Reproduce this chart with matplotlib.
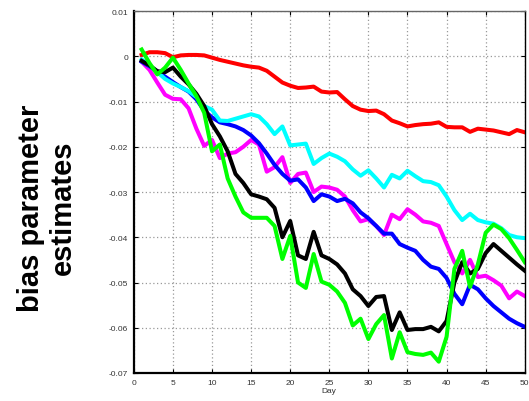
import matplotlib
matplotlib.use("Agg")
import matplotlib.pyplot as plt
import numpy as np

plt.rcParams['font.family'] = ['Liberation Sans', 'DejaVu Sans']
plt.rcParams['axes.unicode_minus'] = False

days = np.arange(1, 51)

red = [0.0003, 0.0009, 0.0009, 0.0007, -0.0002, 0.0002, 0.0003, 0.0003, 0.0002, -0.0003,
       -0.0008, -0.0012, -0.0016, -0.0020, -0.0023, -0.0025, -0.0032, -0.0045, -0.0058, -0.0065,
       -0.0070, -0.0069, -0.0067, -0.0078, -0.0080, -0.0079, -0.0095, -0.0110, -0.0118, -0.0121,
       -0.0120, -0.0128, -0.0142, -0.0148, -0.0155, -0.0152, -0.0150, -0.0149, -0.0146, -0.0156,
       -0.0157, -0.0157, -0.0167, -0.0160, -0.0162, -0.0164, -0.0168, -0.0172, -0.0163, -0.0168]

cyan = [-0.0007, -0.0020, -0.0035, -0.0050, -0.0060, -0.0068, -0.0077, -0.0090, -0.0110, -0.0118,
        -0.0142, -0.0143, -0.0138, -0.0133, -0.0128, -0.0133, -0.0150, -0.0172, -0.0155, -0.0197,
        -0.0195, -0.0193, -0.0238, -0.0225, -0.0215, -0.0222, -0.0232, -0.0250, -0.0264, -0.0252,
        -0.0270, -0.0290, -0.0262, -0.0270, -0.0253, -0.0265, -0.0276, -0.0278, -0.0285, -0.0310,
        -0.0340, -0.0362, -0.0348, -0.0362, -0.0367, -0.0370, -0.0380, -0.0395, -0.0400, -0.0402]

blue = [-0.0012, -0.0022, -0.0033, -0.0045, -0.0057, -0.0068, -0.0078, -0.0095, -0.0120, -0.0135,
        -0.0146, -0.0150, -0.0155, -0.0163, -0.0175, -0.0192, -0.0215, -0.0240, -0.0260, -0.0275,
        -0.0272, -0.0290, -0.0320, -0.0305, -0.0310, -0.0320, -0.0315, -0.0325, -0.0345, -0.0358,
        -0.0375, -0.0392, -0.0392, -0.0415, -0.0423, -0.0430, -0.0450, -0.0465, -0.0470, -0.0490,
        -0.0525, -0.0548, -0.0505, -0.0515, -0.0535, -0.0552, -0.0566, -0.0580, -0.0590, -0.0598]

magenta = [-0.0012, -0.0030, -0.0058, -0.0085, -0.0094, -0.0095, -0.0115, -0.0160, -0.0198, -0.0185,
           -0.0225, -0.0215, -0.0212, -0.0200, -0.0185, -0.0195, -0.0255, -0.0245, -0.0223, -0.0280,
           -0.0260, -0.0257, -0.0300, -0.0288, -0.0290, -0.0295, -0.0310, -0.0340, -0.0365, -0.0360,
           -0.0375, -0.0395, -0.0350, -0.0360, -0.0338, -0.0350, -0.0365, -0.0368, -0.0375, -0.0415,
           -0.0455, -0.0480, -0.0450, -0.0488, -0.0485, -0.0495, -0.0507, -0.0535, -0.0520, -0.0530]

black = [-0.0010, -0.0020, -0.0033, -0.0035, -0.0025, -0.0045, -0.0062, -0.0083, -0.0110, -0.0150,
         -0.0177, -0.0210, -0.0260, -0.0280, -0.0305, -0.0310, -0.0316, -0.0335, -0.0400, -0.0364,
         -0.0440, -0.0448, -0.0388, -0.0440, -0.0448, -0.0460, -0.0480, -0.0515, -0.0530, -0.0552,
         -0.0532, -0.0530, -0.0605, -0.0566, -0.0605, -0.0603, -0.0603, -0.0598, -0.0608, -0.0585,
         -0.0500, -0.0455, -0.0480, -0.0470, -0.0435, -0.0415, -0.0430, -0.0445, -0.0460, -0.0474]

green = [0.0015, -0.0015, -0.0040, -0.0025, -0.0003, -0.0030, -0.0060, -0.0088, -0.0125, -0.0210,
         -0.0195, -0.0270, -0.0310, -0.0345, -0.0357, -0.0357, -0.0357, -0.0375, -0.0448, -0.0397,
         -0.0500, -0.0512, -0.0437, -0.0498, -0.0505, -0.0520, -0.0545, -0.0595, -0.0580, -0.0625,
         -0.0592, -0.0572, -0.0668, -0.0610, -0.0654, -0.0658, -0.0660, -0.0655, -0.0675, -0.0620,
         -0.0470, -0.0430, -0.0510, -0.0460, -0.0390, -0.0372, -0.0382, -0.0402, -0.0428, -0.0455]

xticks = np.arange(0, 51, 5)
yticks = np.arange(-0.07, 0.0101, 0.01)
ytick_labels = ['-0.07', '-0.06', '-0.05', '-0.04', '-0.03', '-0.02', '-0.01', '0', '0.01']

fig = plt.figure(figsize=(5.29, 4.02), dpi=100)
ax = fig.add_axes([0.253, 0.0697, 0.739, 0.9003])

lw = 2.9
ax.plot(days, red, color='#ff0000', lw=lw)
ax.plot(days, magenta, color='#ff00ff', lw=lw)
ax.plot(days, blue, color='#0000ff', lw=lw)
ax.plot(days, cyan, color='#00ffff', lw=lw)
ax.plot(days, black, color='#000000', lw=lw)
ax.plot(days, green, color='#00ff00', lw=lw)

ax.set_xlim(0, 50)
ax.set_ylim(-0.07, 0.01)
ax.set_xticks(xticks)
ax.set_xticklabels([str(t) for t in xticks])
ax.set_yticks(yticks)
ax.set_yticklabels(ytick_labels)
ax.grid(True, linestyle=(0, (1, 2)), color='#999999', lw=0.9)
ax.tick_params(direction='in', length=3, width=0.8, top=True, right=True,
               labelsize=6, labelcolor='#333333', pad=4)
for side in ['left', 'bottom']:
    ax.spines[side].set_linewidth(1.6)
for side in ['top', 'right']:
    ax.spines[side].set_linewidth(1.0)
ax.spines['top'].set_color('#666666')

ax.set_xlabel('Day', fontsize=6, color='#333333', labelpad=1)

fig.text(0.089, 0.483, 'bias parameter\nestimates', rotation=90, ha='center', va='center',
         multialignment='center', fontsize=21, fontweight='bold', linespacing=1.15)

fig.savefig('out.png', dpi=100)
